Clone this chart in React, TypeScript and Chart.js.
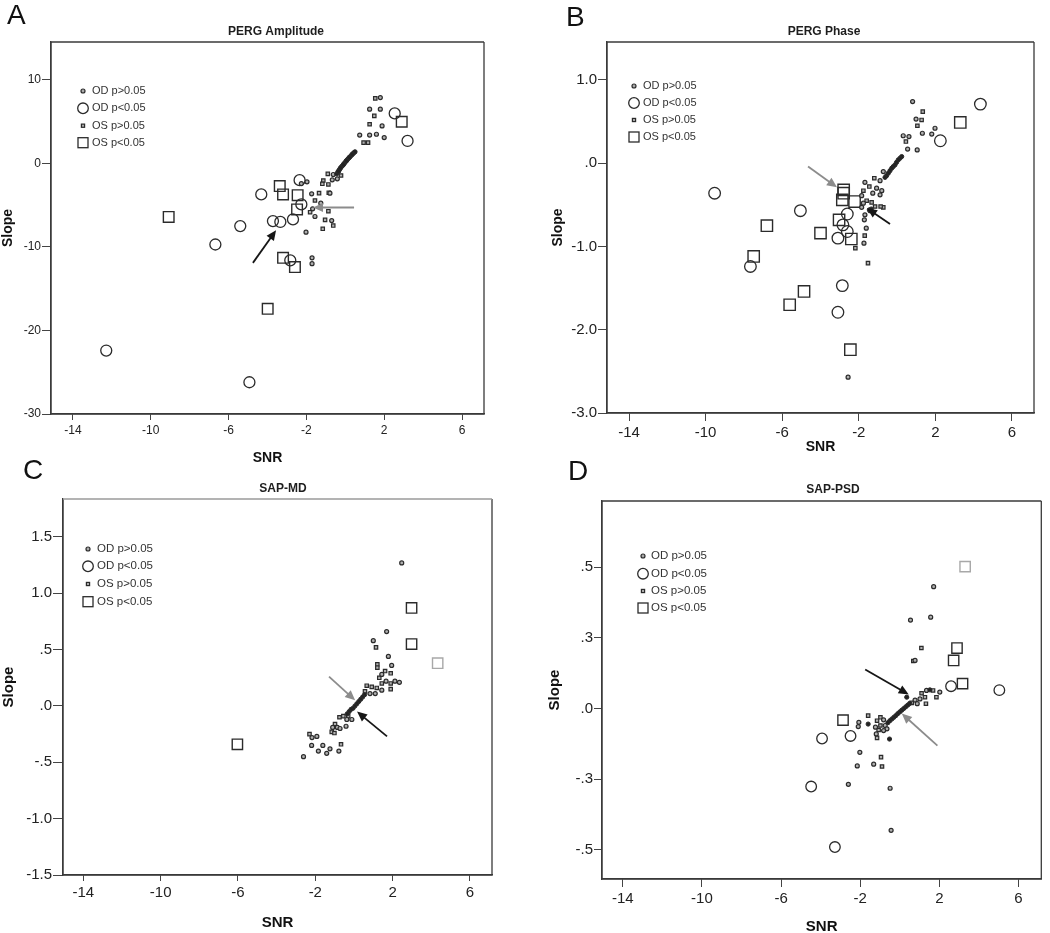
import React, { useEffect, useRef } from 'react';
import { Chart, registerables } from 'chart.js';

Chart.register(...registerables);

type P = [number, number];

const FONT = '"Liberation Sans", Arial, sans-serif';

// ---------- shared ----------
const legendLabels = ['OD p>0.05', 'OD p<0.05', 'OS p>0.05', 'OS p<0.05'];
const xTickValues = [-14, -10, -6, -2, 2, 6];
const xTickLabels = ['-14', '-10', '-6', '-2', '2', '6'];
const xAxisTitle = 'SNR';
const yAxisTitle = 'Slope';

// ---------- Panel A : PERG Amplitude ----------
const aTitle = 'PERG Amplitude';
const aXRange: P = [-15.13, 7.13];
const aYRange: P = [-30, 14.55];
const aYTicks = [-30, -20, -10, 0, 10];
const aYLabels = ['-30', '-20', '-10', '0', '10'];
const aOdSmall: P[] = [[1.8, 7.9], [1.25, 6.5], [1.8, 6.5], [1.89, 4.5], [0.74, 3.4], [1.25, 3.4], [1.6, 3.5], [2.0, 3.1], [-0.62, -1.32], [-0.67, -1.95], [-0.79, -3.55], [-1.73, -3.63], [-1.26, -4.75], [-1.68, -5.43], [-1.56, -6.35], [-0.7, -6.83], [-2.02, -8.23], [-1.71, -11.3], [-1.71, -12.0], [-1.97, -2.2], [-0.41, -1.83], [-2.26, -2.4]];
const aOsSmall: P[] = [[1.54, 7.8], [1.49, 5.7], [1.25, 4.7], [0.94, 2.5], [1.17, 2.5], [-0.9, -1.24], [-0.22, -1.44], [-1.13, -2.04], [-1.18, -2.43], [-0.87, -2.51], [-1.35, -3.55], [-1.56, -4.43], [-1.81, -5.83], [-0.87, -5.71], [-1.04, -6.75], [-0.62, -7.43], [-1.16, -7.82], [-0.85, -3.5]];
const aDense: P[] = [[-0.44, -1.24], [-0.38, -1.0], [-0.32, -0.8], [-0.27, -0.62], [-0.2, -0.4], [-0.14, -0.25], [-0.08, -0.05], [-0.02, 0.1], [0.04, 0.3], [0.1, 0.45], [0.16, 0.6], [0.22, 0.75], [0.28, 0.9], [0.34, 1.05], [0.4, 1.2], [0.46, 1.32], [0.5, 1.4], [-0.35, -0.95], [-0.25, -0.55], [-0.1, -0.15], [0.06, 0.32], [0.2, 0.72], [0.36, 1.1]];
const aOdBig: P[] = [[2.54, 6.0], [3.2, 2.7], [-2.35, -2.0], [-4.32, -3.7], [-2.26, -4.9], [-3.72, -6.9], [-3.34, -7.0], [-2.69, -6.7], [-5.4, -7.5], [-6.68, -9.7], [-2.83, -11.6], [-12.29, -22.4], [-4.93, -26.2]];
const aOsBig: P[] = [[2.9, 5.0], [-3.37, -2.7], [-3.2, -3.7], [-2.45, -3.8], [-2.48, -5.5], [-9.08, -6.4], [-3.2, -11.3], [-2.59, -12.4], [-3.99, -17.4]];
const aOsBigFaded: number[] = [];
const aArrowBlack: P[] = [[-4.75, -11.9], [-3.56, -8.0]];
const aArrowGray: P[] = [[0.45, -5.27], [-1.66, -5.27]];

// ---------- Panel B : PERG Phase ----------
const bTitle = 'PERG Phase';
const bXRange: P = [-15.15, 7.15];
const bYRange: P = [-3, 1.456];
const bYTicks = [-3, -2, -1, 0, 1];
const bYLabels = ['-3.0', '-2.0', '-1.0', '.0', '1.0'];
const bOdSmall: P[] = [[0.81, 0.74], [0.99, 0.53], [1.32, 0.36], [1.98, 0.42], [1.81, 0.35], [0.32, 0.33], [0.62, 0.32], [0.55, 0.17], [1.05, 0.16], [-0.72, -0.1], [-0.89, -0.21], [-1.07, -0.3], [-0.8, -0.33], [-1.27, -0.36], [-0.89, -0.38], [-1.85, -0.39], [-1.76, -0.48], [-1.41, -0.57], [-1.85, -0.53], [-1.68, -0.62], [-1.71, -0.68], [-1.61, -0.78], [-1.73, -0.96], [-2.56, -2.57], [-1.68, -0.23]];
const bOsSmall: P[] = [[1.34, 0.62], [1.28, 0.52], [1.06, 0.45], [0.46, 0.26], [-1.19, -0.18], [-1.45, -0.28], [-1.76, -0.33], [-1.59, -0.45], [-1.33, -0.47], [-1.15, -0.52], [-0.72, -0.53], [-0.86, -0.52], [-1.69, -0.87], [-2.18, -1.02], [-1.52, -1.2]];
const bDense: P[] = [[0.24, 0.08], [0.15, 0.06], [0.06, 0.04], [-0.03, 0.01], [-0.11, -0.02], [-0.2, -0.04], [-0.28, -0.06], [-0.37, -0.09], [-0.46, -0.12], [-0.55, -0.15], [-0.63, -0.17], [-1.45, -0.56], [-1.35, -0.55]];
const bOdBig: P[] = [[4.35, 0.71], [2.26, 0.27], [-9.53, -0.36], [-5.05, -0.57], [-2.6, -0.61], [-2.83, -0.74], [-2.6, -0.82], [-3.09, -0.9], [-7.66, -1.24], [-2.86, -1.47], [-3.09, -1.79]];
const bOsBig: P[] = [[3.3, 0.49], [-2.79, -0.32], [-2.79, -0.36], [-2.86, -0.44], [-2.22, -0.46], [-3.03, -0.68], [-6.8, -0.75], [-4.0, -0.84], [-2.39, -0.91], [-7.49, -1.12], [-4.86, -1.54], [-5.61, -1.7], [-2.44, -2.24]];
const bOsBigFaded: number[] = [];
const bArrowGray: P[] = [[-4.65, -0.04], [-3.14, -0.29]];
const bArrowBlack: P[] = [[-0.37, -0.73], [-1.57, -0.54]];

// ---------- Panel C : SAP-MD ----------
const cTitle = 'SAP-MD';
const cXRange: P = [-15.05, 7.14];
const cYRange: P = [-1.5, 1.837];
const cYTicks = [-1.5, -1, -0.5, 0, 0.5, 1, 1.5];
const cYLabels = ['-1.5', '-1.0', '-.5', '.0', '.5', '1.0', '1.5'];
const cOdSmall: P[] = [[2.47, 1.27], [1.69, 0.66], [1.0, 0.58], [1.78, 0.44], [1.95, 0.36], [1.44, 0.28], [1.66, 0.22], [2.12, 0.22], [2.35, 0.21], [1.44, 0.14], [0.83, 0.11], [1.1, 0.11], [-0.11, -0.12], [-0.37, -0.12], [-1.1, -0.19], [-0.86, -0.19], [-0.72, -0.2], [-0.41, -0.18], [-2.17, -0.28], [-1.92, -0.27], [-2.19, -0.35], [-1.61, -0.35], [-1.24, -0.38], [-1.84, -0.4], [-0.78, -0.4], [-1.41, -0.42], [-2.61, -0.45]];
const cOsSmall: P[] = [[1.14, 0.52], [1.21, 0.37], [1.21, 0.34], [1.61, 0.31], [1.9, 0.29], [1.31, 0.25], [1.9, 0.2], [1.9, 0.15], [1.18, 0.16], [0.92, 0.17], [0.66, 0.18], [0.57, 0.13], [-0.55, -0.09], [-0.3, -0.09], [-0.75, -0.1], [-0.98, -0.16], [-1.15, -0.23], [-1.01, -0.24], [-2.3, -0.25], [-0.67, -0.34], [1.44, 0.2]];
const cDense: P[] = [[0.55, 0.1], [0.45, 0.08], [0.35, 0.06], [0.25, 0.04], [0.15, 0.02], [0.05, 0.0], [-0.05, -0.02], [-0.15, -0.03], [-0.25, -0.05], [-0.35, -0.07]];
const cOdBig: P[] = [];
const cOsBig: P[] = [[2.98, 0.87], [2.98, 0.55], [4.33, 0.38], [-6.03, -0.34]];
const cOsBigFaded: number[] = [2];
const cArrowGray: P[] = [[-1.29, 0.26], [0.06, 0.05]];
const cArrowBlack: P[] = [[1.71, -0.27], [0.16, -0.05]];

// ---------- Panel D : SAP-PSD ----------
const dTitle = 'SAP-PSD';
const dXRange: P = [-15.05, 7.15];
const dYRange: P = [-0.603, 0.734];
const dYTicks = [-0.5, -0.25, 0, 0.25, 0.5];
const dYLabels = ['-.5', '-.3', '.0', '.3', '.5'];
const dOdSmall: P[] = [[1.71, 0.431], [0.54, 0.313], [1.56, 0.323], [0.77, 0.17], [2.02, 0.058], [1.35, 0.064], [1.02, 0.034], [0.77, 0.03], [0.88, 0.017], [-0.82, -0.04], [-0.74, -0.06], [-0.65, -0.072], [-0.82, -0.078], [-1.19, -0.09], [-2.07, -0.049], [-2.1, -0.064], [-1.23, -0.066], [-2.02, -0.155], [-1.32, -0.197], [-2.15, -0.203], [-2.6, -0.268], [-0.49, -0.282], [-0.44, -0.431]];
const dOsSmall: P[] = [[1.09, 0.214], [1.1, 0.054], [1.68, 0.064], [1.85, 0.04], [1.27, 0.04], [1.32, 0.017], [0.6, 0.02], [-0.98, -0.031], [-1.15, -0.043], [-0.98, -0.06], [-1.07, -0.076], [-1.15, -0.104], [-1.6, -0.025], [-0.95, -0.172], [-0.9, -0.205], [0.68, 0.168]];
const dDense: P[] = [[0.5, 0.018], [0.4, 0.012], [0.3, 0.006], [0.2, 0.0], [0.1, -0.006], [0.0, -0.012], [-0.1, -0.018], [-0.2, -0.025], [-0.3, -0.031], [-0.4, -0.037], [-0.5, -0.043], [-0.6, -0.05], [1.52, 0.066], [0.35, 0.04], [-1.6, -0.055], [-0.52, -0.108]];
const dOdBig: P[] = [[2.59, 0.079], [5.03, 0.065], [-3.93, -0.106], [-2.49, -0.097], [-4.48, -0.276], [-3.28, -0.49]];
const dOsBig: P[] = [[3.3, 0.502], [2.89, 0.214], [2.72, 0.17], [3.17, 0.088], [-2.87, -0.041]];
const dOsBigFaded: number[] = [0];
const dArrowBlack: P[] = [[-1.75, 0.138], [0.45, 0.05]];
const dArrowGray: P[] = [[1.9, -0.131], [0.1, -0.018]];

// ---------- layout ----------
type Arrow = { pts: P[]; color: string };
type PanelCfg = {
  left: number; top: number; w: number; h: number;
  area: { l: number; t: number; r: number; b: number };
  title: string; titlePos: P;
  xRange: P; yRange: P; yTicks: number[]; yLabels: string[];
  tickFont: number; axisFont: number; xTickLen: number; yTickLen: number;
  slopePad: number; snrPad: number;
  legendX: number; legendTextX: number; legendRows: number[]; legendFont: number;
  odSmall: P[]; osSmall: P[]; dense: P[]; odBig: P[]; osBig: P[]; osBigFaded: number[];
  arrows: Arrow[];
  rSmall: number; rCircle: number; rSquare: number;
  topBorder: string;
};

const BLACK = '#161616';
const GRAY = '#8c8c8c';

const panels: PanelCfg[] = [
  {
    left: 0, top: 0, w: 525, h: 470, area: { l: 51, t: 42, r: 484, b: 414 },
    title: aTitle, titlePos: [276, 32], xRange: aXRange, yRange: aYRange, yTicks: aYTicks, yLabels: aYLabels,
    tickFont: 12, axisFont: 14, xTickLen: 6, yTickLen: 9, slopePad: 0, snrPad: 3.6,
    legendX: 83, legendTextX: 92, legendRows: [91, 108.3, 125.7, 142.7], legendFont: 11,
    odSmall: aOdSmall, osSmall: aOsSmall, dense: aDense, odBig: aOdBig, osBig: aOsBig, osBigFaded: aOsBigFaded,
    arrows: [{ pts: aArrowBlack, color: BLACK }, { pts: aArrowGray, color: GRAY }],
    rSmall: 2, rCircle: 5.5, rSquare: 7.5, topBorder: '#3a3a3a',
  },
  {
    left: 525, top: 0, w: 525, h: 470, area: { l: 82, t: 42, r: 509, b: 413 },
    title: bTitle, titlePos: [299, 32], xRange: bXRange, yRange: bYRange, yTicks: bYTicks, yLabels: bYLabels,
    tickFont: 15, axisFont: 14, xTickLen: 8, yTickLen: 9, slopePad: 24.6, snrPad: 14.6,
    legendX: 109, legendTextX: 118, legendRows: [86, 103, 120, 137], legendFont: 11,
    odSmall: bOdSmall, osSmall: bOsSmall, dense: bDense, odBig: bOdBig, osBig: bOsBig, osBigFaded: bOsBigFaded,
    arrows: [{ pts: bArrowGray, color: GRAY }, { pts: bArrowBlack, color: BLACK }],
    rSmall: 2, rCircle: 5.8, rSquare: 8, topBorder: '#3a3a3a',
  },
  {
    left: 0, top: 470, w: 525, h: 463, area: { l: 63, t: 29, r: 492, b: 405 },
    title: cTitle, titlePos: [283, 19], xRange: cXRange, yRange: cYRange, yTicks: cYTicks, yLabels: cYLabels,
    tickFont: 15, axisFont: 15, xTickLen: 6, yTickLen: 10, slopePad: 0, snrPad: 1,
    legendX: 88, legendTextX: 97, legendRows: [79, 96.3, 114, 131.7], legendFont: 11.5,
    odSmall: cOdSmall, osSmall: cOsSmall, dense: cDense, odBig: cOdBig, osBig: cOsBig, osBigFaded: cOsBigFaded,
    arrows: [{ pts: cArrowGray, color: GRAY }, { pts: cArrowBlack, color: BLACK }],
    rSmall: 2, rCircle: 5.3, rSquare: 7.3, topBorder: '#9a9a9a',
  },
  {
    left: 525, top: 470, w: 525, h: 463, area: { l: 77, t: 31, r: 521, b: 409 },
    title: dTitle, titlePos: [308, 20], xRange: dXRange, yRange: dYRange, yTicks: dYTicks, yLabels: dYLabels,
    tickFont: 15, axisFont: 15, xTickLen: 8, yTickLen: 8, slopePad: 21, snrPad: -3,
    legendX: 118, legendTextX: 126, legendRows: [86, 103.7, 121, 138], legendFont: 11.5,
    odSmall: dOdSmall, osSmall: dOsSmall, dense: dDense, odBig: dOdBig, osBig: dOsBig, osBigFaded: dOsBigFaded,
    arrows: [{ pts: dArrowBlack, color: BLACK }, { pts: dArrowGray, color: GRAY }],
    rSmall: 2, rCircle: 5.3, rSquare: 7.3, topBorder: '#3a3a3a',
  },
];

const letters = [
  { t: 'A', x: 7, y: 1 },
  { t: 'B', x: 566, y: 3 },
  { t: 'C', x: 23, y: 456 },
  { t: 'D', x: 568, y: 457 },
];

const MARK = '#2b2b2b';
const FADED = '#a8a8a8';

function ds(data: P[], style: string, r: number, bg: string, bw: number, faded: number[] = []) {
  return {
    data: data.map(([x, y]) => ({ x, y })),
    pointStyle: style,
    pointRadius: r,
    pointBackgroundColor: bg,
    pointBorderColor: data.map((_d, i) => (faded.includes(i) ? FADED : MARK)),
    pointBorderWidth: bw,
    showLine: false,
  };
}

function drawArrow(ctx: CanvasRenderingContext2D, x0: number, y0: number, x1: number, y1: number, color: string) {
  const ang = Math.atan2(y1 - y0, x1 - x0);
  const hl = 10, hw = 4.5;
  ctx.save();
  ctx.strokeStyle = color;
  ctx.fillStyle = color;
  ctx.lineWidth = 1.8;
  ctx.beginPath();
  ctx.moveTo(x0, y0);
  ctx.lineTo(x1 - Math.cos(ang) * hl * 0.7, y1 - Math.sin(ang) * hl * 0.7);
  ctx.stroke();
  ctx.beginPath();
  ctx.moveTo(x1, y1);
  ctx.lineTo(x1 - hl * Math.cos(ang) + hw * Math.sin(ang), y1 - hl * Math.sin(ang) - hw * Math.cos(ang));
  ctx.lineTo(x1 - hl * Math.cos(ang) - hw * Math.sin(ang), y1 - hl * Math.sin(ang) + hw * Math.cos(ang));
  ctx.closePath();
  ctx.fill();
  ctx.restore();
}

function makeDecor(p: PanelCfg) {
  return {
    id: 'decor',
    afterDatasetsDraw(chart: any) {
      const { ctx, scales } = chart;
      for (const a of p.arrows) {
        const [f, t] = a.pts;
        drawArrow(
          ctx,
          scales.x.getPixelForValue(f[0]), scales.y.getPixelForValue(f[1]),
          scales.x.getPixelForValue(t[0]), scales.y.getPixelForValue(t[1]),
          a.color,
        );
      }
    },
    afterDraw(chart: any) {
      const { ctx, chartArea: ca } = chart;
      ctx.save();
      ctx.lineWidth = 1.3;
      ctx.strokeStyle = '#3a3a3a';
      ctx.beginPath();
      ctx.moveTo(ca.right, ca.top);
      ctx.lineTo(ca.right, ca.bottom);
      ctx.lineTo(ca.left, ca.bottom);
      ctx.lineTo(ca.left, ca.top);
      ctx.stroke();
      ctx.strokeStyle = p.topBorder;
      ctx.beginPath();
      ctx.moveTo(ca.left, ca.top);
      ctx.lineTo(ca.right, ca.top);
      ctx.stroke();
      // title
      ctx.font = `bold 12px ${FONT}`;
      ctx.fillStyle = '#1e1e1e';
      ctx.textAlign = 'center';
      ctx.textBaseline = 'middle';
      ctx.fillText(p.title, p.titlePos[0], p.titlePos[1]);
      // legend
      ctx.font = `${p.legendFont}px ${FONT}`;
      ctx.textAlign = 'left';
      ctx.fillStyle = '#333';
      p.legendRows.forEach((ry, i) => {
        ctx.fillText(legendLabels[i], p.legendTextX, ry);
      });
      ctx.strokeStyle = MARK;
      const lx = p.legendX;
      let ry = p.legendRows[0];
      ctx.lineWidth = 1.2;
      ctx.fillStyle = '#aaa';
      ctx.beginPath(); ctx.arc(lx, ry, 2, 0, Math.PI * 2); ctx.fill(); ctx.stroke();
      ry = p.legendRows[1];
      ctx.lineWidth = 1.3;
      ctx.beginPath(); ctx.arc(lx, ry, 5.3, 0, Math.PI * 2); ctx.stroke();
      ry = p.legendRows[2];
      ctx.lineWidth = 1.2;
      ctx.fillRect(lx - 1.6, ry - 1.6, 3.2, 3.2); ctx.strokeRect(lx - 1.6, ry - 1.6, 3.2, 3.2);
      ry = p.legendRows[3];
      ctx.lineWidth = 1.3;
      ctx.strokeRect(lx - 5, ry - 5, 10, 10);
      ctx.restore();
    },
  };
}

function buildConfig(p: PanelCfg): any {
  return {
    type: 'scatter',
    data: {
      datasets: [
        ds(p.dense, 'circle', 2.1, '#222', 1),
        ds(p.odSmall, 'circle', p.rSmall, '#b0b0b0', 1.2),
        ds(p.osSmall, 'rect', p.rSmall * 1.2, '#b0b0b0', 1.2),
        ds(p.odBig, 'circle', p.rCircle, 'rgba(0,0,0,0)', 1.3),
        ds(p.osBig, 'rect', p.rSquare, 'rgba(0,0,0,0)', 1.4, p.osBigFaded),
      ],
    },
    options: {
      animation: false,
      responsive: false,
      maintainAspectRatio: false,
      devicePixelRatio: 1,
      events: [],
      layout: { padding: { left: 0, top: p.area.t, right: p.w - p.area.r, bottom: 0 } },
      plugins: { legend: { display: false }, tooltip: { enabled: false }, title: { display: false } },
      scales: {
        x: {
          type: 'linear',
          position: 'bottom',
          min: p.xRange[0],
          max: p.xRange[1],
          afterBuildTicks: (s: any) => { s.ticks = xTickValues.map((v) => ({ value: v })); },
          afterFit: (s: any) => { s.height = p.h - p.area.b; },
          ticks: {
            autoSkip: false, maxRotation: 0, minRotation: 0,
            font: { family: FONT, size: p.tickFont }, color: '#222', padding: 3,
            callback: (_v: any, i: number) => xTickLabels[i],
          },
          grid: { drawOnChartArea: false, drawTicks: true, tickLength: p.xTickLen, color: '#444', lineWidth: 1 },
          border: { display: true, color: '#3a3a3a', width: 1.3 },
          title: {
            display: true, text: xAxisTitle, color: '#111',
            font: { family: FONT, size: p.axisFont, weight: 'bold' },
            padding: { top: 0, bottom: p.snrPad },
          },
        },
        y: {
          type: 'linear',
          position: 'left',
          min: p.yRange[0],
          max: p.yRange[1],
          afterBuildTicks: (s: any) => { s.ticks = p.yTicks.map((v) => ({ value: v })); },
          afterFit: (s: any) => { s.width = p.area.l; },
          ticks: {
            autoSkip: false,
            font: { family: FONT, size: p.tickFont }, color: '#222', padding: 1,
            callback: (_v: any, i: number) => p.yLabels[i],
          },
          grid: { drawOnChartArea: false, drawTicks: true, tickLength: p.yTickLen, color: '#444', lineWidth: 1 },
          border: { display: true, color: '#3a3a3a', width: 1.3 },
          title: {
            display: true, text: yAxisTitle, color: '#111',
            font: { family: FONT, size: p.axisFont, weight: 'bold' },
            padding: { top: p.slopePad, bottom: 0 },
          },
        },
      },
    },
    plugins: [makeDecor(p)],
  };
}

export default function App() {
  const refs = [useRef<HTMLCanvasElement>(null), useRef<HTMLCanvasElement>(null), useRef<HTMLCanvasElement>(null), useRef<HTMLCanvasElement>(null)];

  useEffect(() => {
    const charts = panels.map((p, i) => new Chart(refs[i].current as HTMLCanvasElement, buildConfig(p)));
    return () => charts.forEach((c) => c.destroy());
  }, []);

  return (
    <div style={{ position: 'absolute', left: 0, top: 0, width: 1050, height: 933, background: '#fff', overflow: 'hidden' }}>
      {panels.map((p, i) => (
        <canvas
          key={i}
          ref={refs[i]}
          width={p.w}
          height={p.h}
          style={{ position: 'absolute', left: p.left, top: p.top, width: p.w, height: p.h }}
        />
      ))}
      {letters.map((l) => (
        <div
          key={l.t}
          style={{ position: 'absolute', left: l.x, top: l.y, fontFamily: FONT, fontSize: 28, lineHeight: '28px', color: '#111' }}
        >
          {l.t}
        </div>
      ))}
    </div>
  );
}
